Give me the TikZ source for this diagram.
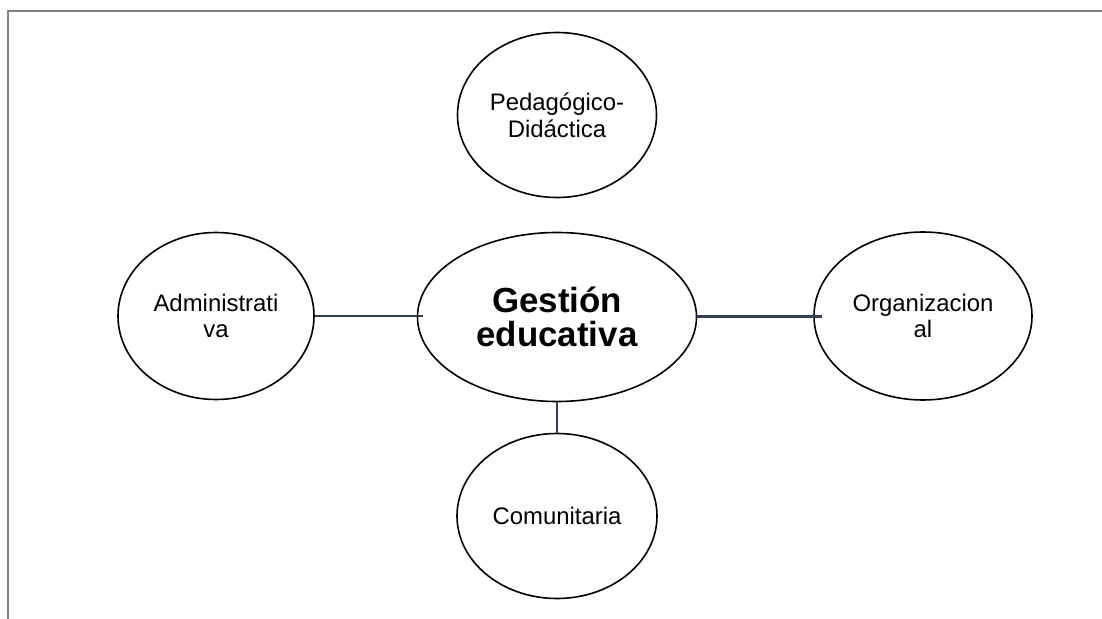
\documentclass[tikz,border=0pt]{standalone}
\usepackage{fontspec}
\setmainfont{Liberation Sans}
\usetikzlibrary{shapes.geometric}
\definecolor{linkc}{HTML}{333F50}
\definecolor{framec}{HTML}{808080}
\begin{document}
\begin{tikzpicture}[x=1bp,y=-1bp,
  bubble/.style={draw=black, line width=1.6bp, ellipse, inner sep=0pt, align=center,
    font=\fontsize{24}{27}\selectfont},
  link/.style={draw=linkc},
  frameline/.style={draw=framec, line width=2.2bp}]
\useasboundingbox (0,0) rectangle (1102,619);
\fill[white] (0,0) rectangle (1102,619);
\draw[frameline] (7.7,619) -- (7.7,11.2) -- (1102,11.2);

\node[bubble, minimum width=199bp, minimum height=165bp] (ped) at (557,115) {Pedagógico-\\Didáctica};
\node[bubble, minimum width=196bp, minimum height=167bp] (adm) at (216,316) {Administrati\\va};
\node[bubble, minimum width=279bp, minimum height=169bp,
  font=\bfseries\fontsize{35}{34}\selectfont] (ges) at (557,317) {Gestión\\educativa};
\node[bubble, minimum width=218bp, minimum height=168bp] (org) at (923,316) {Organizacion\\al};
\node[bubble, minimum width=200bp, minimum height=165bp] (com) at (557,516) {Comunitaria};

\draw[link, line width=1.3bp] (adm.east) -- ([xshift=6bp,yshift=1bp]ges.west);
\draw[link, line width=3bp] ([yshift=1bp]ges.east) -- ([xshift=9bp]org.west);
\draw[link, line width=2bp] (ges.south) -- (com.north);
\end{tikzpicture}
\end{document}
